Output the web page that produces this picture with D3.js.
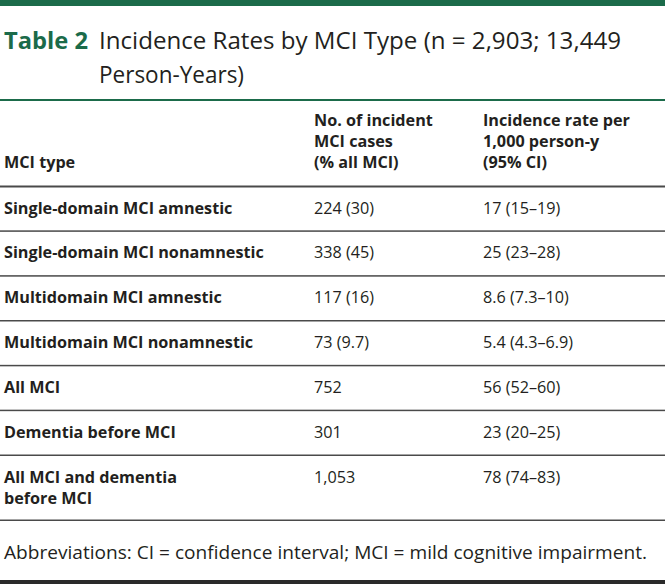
<!DOCTYPE html>
<html><head><meta charset="utf-8">
<script src="https://cdn.jsdelivr.net/npm/d3@7"></script>
<style>body{margin:0;background:#fff}svg{display:block}</style>
</head><body><svg id="c" width="665" height="584"></svg>
<script>
const titleLabel = "Table 2";
const titleLines = ["Incidence Rates by MCI Type (n = 2,903; 13,449", "Person-Years)"];
const headers = [["MCI type"], ["No. of incident", "MCI cases", "(% all MCI)"], ["Incidence rate per", "1,000 person-y", "(95% CI)"]];
const categories = [["Single-domain MCI amnestic"], ["Single-domain MCI nonamnestic"], ["Multidomain MCI amnestic"], ["Multidomain MCI nonamnestic"], ["All MCI"], ["Dementia before MCI"], ["All MCI and dementia", "before MCI"]];
const cases = ["224 (30)", "338 (45)", "117 (16)", "73 (9.7)", "752", "301", "1,053"];
const rates = ["17 (15–19)", "25 (23–28)", "8.6 (7.3–10)", "5.4 (4.3–6.9)", "56 (52–60)", "23 (20–25)", "78 (74–83)"];
const footnote = "Abbreviations: CI = confidence interval; MCI = mild cognitive impairment.";

const svg = d3.select("#c");
const green = "#1b6b4a", ink = "#231f20", font = "'Open Sans', sans-serif";
const W = 665, fs = 16.2;
const x = d3.scaleOrdinal().domain([0,1,2]).range([4, 314, 483]);

svg.append("rect").attr("x",0).attr("y",0).attr("width",W).attr("height",6).attr("fill",green);

svg.append("text").attr("x",4).attr("y",49).attr("font-family",font).attr("font-size",23.5).attr("font-weight",700).attr("fill",green)
  .attr("textLength",84).attr("lengthAdjust","spacingAndGlyphs").text(titleLabel);
svg.append("text").attr("x",99).attr("y",49).attr("font-family",font).attr("font-size",23.5).attr("fill",ink)
  .attr("textLength",522).attr("lengthAdjust","spacingAndGlyphs").text(titleLines[0]);
svg.append("text").attr("x",99).attr("y",83).attr("font-family",font).attr("font-size",23.5).attr("fill",ink)
  .attr("textLength",145).attr("lengthAdjust","spacingAndGlyphs").text(titleLines[1]);
svg.append("rect").attr("x",0).attr("y",99).attr("width",W).attr("height",2).attr("fill",green);

const headerBottom = 168, lh = 21;
headers.forEach((lines, i) => {
  lines.forEach((s, j) => {
    svg.append("text").attr("x", x(i)).attr("y", headerBottom - (lines.length-1-j)*lh)
      .attr("font-family",font).attr("font-size",fs).attr("font-weight",700).attr("fill",ink).text(s);
  });
});
svg.append("rect").attr("x",0).attr("y",185.5).attr("width",W).attr("height",2).attr("fill","#4a4a4a");

const y = d3.scaleBand().domain(d3.range(6)).range([187, 456]);
const rowTop = i => i < 6 ? y(i) : 456;
const rowH = i => i < 6 ? y.bandwidth() : 65;
categories.forEach((lines, i) => {
  const top = rowTop(i);
  const base = top + 26.5;
  lines.forEach((s, j) => {
    svg.append("text").attr("x", x(0)).attr("y", base + j*lh).attr("font-family",font).attr("font-size",fs)
      .attr("font-weight",700).attr("fill",ink).text(s);
  });
  svg.append("text").attr("x", x(1)).attr("y", base).attr("font-family",font).attr("font-size",fs).attr("fill",ink).text(cases[i]);
  svg.append("text").attr("x", x(2)).attr("y", base).attr("font-family",font).attr("font-size",fs).attr("fill",ink).text(rates[i]);
  svg.append("rect").attr("x",0).attr("y", top + rowH(i) - 1.5).attr("width",W).attr("height",1.5).attr("fill","#4a4a4a");
});

svg.append("text").attr("x",4).attr("y",559).attr("font-family",font).attr("font-size",18.5).attr("fill",ink)
  .attr("textLength",643).attr("lengthAdjust","spacingAndGlyphs").text(footnote);
svg.append("rect").attr("x",0).attr("y",580).attr("width",W).attr("height",4).attr("fill","#2a2a2a");
</script></body></html>
